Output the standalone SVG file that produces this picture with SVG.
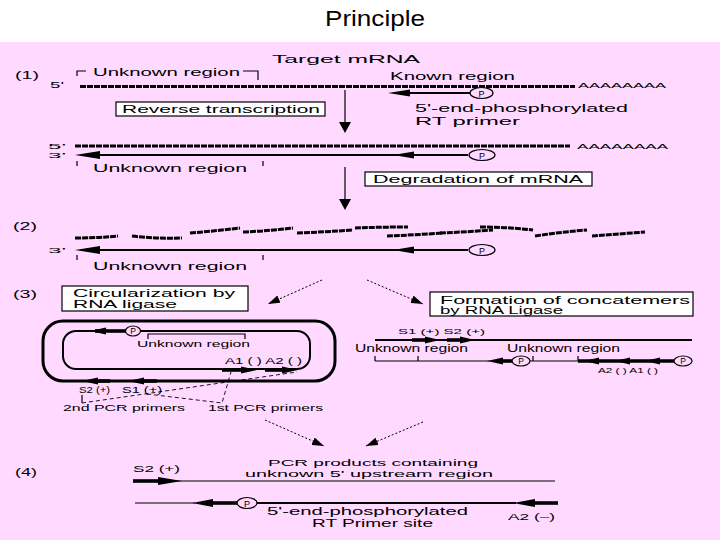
<svg xmlns="http://www.w3.org/2000/svg" width="720" height="540" viewBox="0 0 720 540">
<style>
.t{font-family:"Liberation Sans",Arial,Helvetica,sans-serif;fill:#000}
.hatch{fill:none;stroke:#000;stroke-width:3;stroke-dasharray:6 1}
.thin{fill:none;stroke:#000;stroke-width:1.2}
.mid{fill:none;stroke:#000;stroke-width:2.2}
.thick{fill:none;stroke:#000;stroke-width:3.6}
.dash{fill:none;stroke:#000;stroke-width:0.9;stroke-dasharray:4 3}
.dot{fill:none;stroke:#000;stroke-width:1;stroke-dasharray:2 2}
.box{fill:#fff;stroke:#000;stroke-width:1.2}
.pc{fill:#ffd9ff;stroke:#000;stroke-width:1.2}
.hd{fill:#000}
</style>
<defs>
<marker id="ah" viewBox="0 0 12 8" refX="12" refY="4" markerWidth="12" markerHeight="8" markerUnits="userSpaceOnUse" orient="auto"><path d="M0,0 L12,4 L0,8 z" fill="#000"/></marker>
</defs>
<rect x="0" y="0" width="720" height="42" fill="#fff"/>
<rect x="0" y="42" width="720" height="498" fill="#ffd9ff"/>
<text class="t" x="325" y="26" font-size="22" textLength="100" lengthAdjust="spacingAndGlyphs">Principle</text>

<g id="step1">
<text class="t" x="15" y="79" font-size="10" textLength="24" lengthAdjust="spacingAndGlyphs">(1)</text>
<text class="t" x="272" y="63" font-size="11.5" textLength="148" lengthAdjust="spacingAndGlyphs">Target mRNA</text>
<path class="thin" d="M77,76 V71 H86 M243,71 H258 V80"/>
<text class="t" x="93" y="76" font-size="10.5" textLength="147" lengthAdjust="spacingAndGlyphs">Unknown region</text>
<text class="t" x="390" y="80" font-size="10" textLength="125" lengthAdjust="spacingAndGlyphs">Known region</text>
<text class="t" x="50" y="88" font-size="9" textLength="14" lengthAdjust="spacingAndGlyphs">5'</text>
<line class="hatch" x1="80" y1="86.5" x2="575" y2="86.5"/>
<text class="t" x="578" y="88" font-size="8" textLength="88" lengthAdjust="spacingAndGlyphs">AAAAAAAA</text>
<g id="primer1">
<line class="mid" x1="405" y1="93" x2="470" y2="93"/>
<polygon class="hd" points="388,93 410,89.5 410,96.5"/>
<ellipse class="pc" cx="481.5" cy="93" rx="11.5" ry="5.5"/>
<text class="t" x="481.5" y="96.5" font-size="9" text-anchor="middle">P</text>
</g>
<text class="t" x="415" y="112" font-size="10.5" textLength="213" lengthAdjust="spacingAndGlyphs">5'-end-phosphorylated</text>
<text class="t" x="415" y="125" font-size="10.5" textLength="105" lengthAdjust="spacingAndGlyphs">RT primer</text>
</g>
<g id="box-rt">
<rect class="box" x="116" y="102" width="209" height="14"/>
<text class="t" x="122" y="113" font-size="10" textLength="198" lengthAdjust="spacingAndGlyphs">Reverse transcription</text>
</g>

<g id="hybrid">
<text class="t" x="48" y="149" font-size="8" textLength="18" lengthAdjust="spacingAndGlyphs">5'</text>
<text class="t" x="48" y="158" font-size="8" textLength="18" lengthAdjust="spacingAndGlyphs">3'</text>
<line class="hatch" x1="75" y1="146" x2="570" y2="146"/>
<text class="t" x="577" y="149" font-size="8" textLength="91" lengthAdjust="spacingAndGlyphs">AAAAAAAA</text>
<line class="mid" x1="90" y1="155" x2="468" y2="155"/>
<polygon class="hd" points="75,155 100,151 100,159"/>
<polygon class="hd" points="393,155 414,151.5 414,158.5"/>
<ellipse class="pc" cx="482" cy="155" rx="13" ry="5.5"/>
<text class="t" x="482" y="158.5" font-size="9" text-anchor="middle">P</text>
<path class="thin" d="M77,161 V166 M263,161 V166"/>
<text class="t" x="93" y="172" font-size="10.5" textLength="154" lengthAdjust="spacingAndGlyphs">Unknown region</text>
</g>
<g id="box-deg">
<rect class="box" x="365" y="172" width="227" height="14"/>
<text class="t" x="373" y="183" font-size="10" textLength="210" lengthAdjust="spacingAndGlyphs">Degradation of mRNA</text>
</g>

<g id="step2">
<text class="t" x="13" y="230" font-size="10" textLength="24" lengthAdjust="spacingAndGlyphs">(2)</text>
<g id="fragments">
<path class="hatch" d="M75,238 Q97,238 118,236"/>
<path class="hatch" d="M132,236 Q157,239 182,238"/>
<path class="hatch" d="M190,233 Q215,231 240,228"/>
<path class="hatch" d="M243,232 Q268,231 293,228"/>
<path class="hatch" d="M297,233 Q325,232 353,230"/>
<path class="hatch" d="M355,228 Q381,227 408,227"/>
<path class="hatch" d="M387,236 Q414,235 442,233"/>
<path class="hatch" d="M440,233 Q466,232 493,230"/>
<path class="hatch" d="M480,227 Q506,227 533,230"/>
<path class="hatch" d="M535,236 Q561,232 587,230"/>
<path class="hatch" d="M592,236 Q618,234 645,232"/>
</g>
<text class="t" x="48" y="253" font-size="8" textLength="18" lengthAdjust="spacingAndGlyphs">3'</text>
<line class="mid" x1="90" y1="250" x2="468" y2="250"/>
<polygon class="hd" points="75,250 100,246 100,254"/>
<polygon class="hd" points="393,250 414,246.5 414,253.5"/>
<ellipse class="pc" cx="482" cy="250" rx="13" ry="5.5"/>
<text class="t" x="482" y="253.5" font-size="9" text-anchor="middle">P</text>
<path class="thin" d="M77,255 V260 M263,255 V260"/>
<text class="t" x="93" y="270" font-size="10.5" textLength="154" lengthAdjust="spacingAndGlyphs">Unknown region</text>
</g>

<g id="step3-label">
<text class="t" x="13" y="298" font-size="10" textLength="24" lengthAdjust="spacingAndGlyphs">(3)</text>
</g>
<g id="box-circ">
<rect class="box" x="62" y="286" width="186" height="25"/>
<text class="t" x="73" y="297" font-size="10.5" textLength="162" lengthAdjust="spacingAndGlyphs">Circularization by</text>
<text class="t" x="73" y="308" font-size="10.5" textLength="104" lengthAdjust="spacingAndGlyphs">RNA ligase</text>
</g>
<g id="circle">
<rect x="43" y="321" width="292" height="60" rx="20" fill="none" stroke="#000" stroke-width="3"/>
<rect x="63" y="331" width="247" height="38" rx="13" fill="none" stroke="#000" stroke-width="2"/>
<line class="thick" x1="95" y1="331" x2="127" y2="331"/>
<polygon class="hd" points="90,331 106,327.5 106,334.5"/>
<ellipse class="pc" cx="133" cy="331" rx="7.5" ry="5"/>
<text class="t" x="133" y="334.3" font-size="8.5" text-anchor="middle">P</text>
<path class="thin" d="M148,339 V334 H245 V339"/>
<text class="t" x="137" y="347" font-size="9.5" textLength="113" lengthAdjust="spacingAndGlyphs">Unknown region</text>
<text class="t" x="225" y="364" font-size="9" textLength="77" lengthAdjust="spacingAndGlyphs">A1 ( )  A2 ( )</text>
<line class="thick" x1="222" y1="370" x2="244" y2="370"/>
<polygon class="hd" points="257,370 241,366.5 241,373.5"/>
<line class="thick" x1="265" y1="370" x2="285" y2="370"/>
<polygon class="hd" points="298,370 282,366.5 282,373.5"/>
<line class="thick" x1="95" y1="381" x2="110" y2="381"/>
<polygon class="hd" points="82,381 98,377.5 98,384.5"/>
<line class="thick" x1="141" y1="381" x2="157" y2="381"/>
<polygon class="hd" points="128,381 144,377.5 144,384.5"/>
<text class="t" x="79" y="393" font-size="9" textLength="31" lengthAdjust="spacingAndGlyphs">S2 (+)</text>
<text class="t" x="122" y="393" font-size="9" textLength="40" lengthAdjust="spacingAndGlyphs">S1 (+)</text>
<text class="t" x="63" y="411" font-size="9.5" textLength="122" lengthAdjust="spacingAndGlyphs">2nd PCR primers</text>
<text class="t" x="208" y="411" font-size="9.5" textLength="115" lengthAdjust="spacingAndGlyphs">1st PCR primers</text>
</g>
<g id="box-concat">
<rect class="box" x="430" y="292" width="263" height="24"/>
<text class="t" x="440" y="304" font-size="10" textLength="250" lengthAdjust="spacingAndGlyphs">Formation of concatemers</text>
<text class="t" x="440" y="314" font-size="10" textLength="123" lengthAdjust="spacingAndGlyphs">by RNA Ligase</text>
</g>
<g id="concatemer">
<text class="t" x="398" y="334" font-size="8" textLength="87" lengthAdjust="spacingAndGlyphs">S1 (+)  S2 (+)</text>
<line class="mid" x1="375" y1="340" x2="692" y2="340"/>
<line class="thick" x1="412" y1="340" x2="428" y2="340"/>
<polygon class="hd" points="440,340 425,336.5 425,343.5"/>
<line class="thick" x1="447" y1="340" x2="463" y2="340"/>
<polygon class="hd" points="475,340 460,336.5 460,343.5"/>
<text class="t" x="355" y="352" font-size="10" textLength="113" lengthAdjust="spacingAndGlyphs">Unknown region</text>
<text class="t" x="507" y="352" font-size="10" textLength="113" lengthAdjust="spacingAndGlyphs">Unknown region</text>
<line class="thin" x1="375" y1="361" x2="490" y2="361"/>
<path class="thin" d="M375,356 V361 M418,356 V361 M533,356 V361 M578,356 V361"/>
<line class="thick" x1="500" y1="361" x2="513" y2="361"/>
<polygon class="hd" points="487,361 503,357.5 503,364.5"/>
<ellipse class="pc" cx="521" cy="361" rx="9" ry="5"/>
<text class="t" x="521" y="364.3" font-size="8.5" text-anchor="middle">P</text>
<line class="thin" x1="530" y1="361" x2="578" y2="361"/>
<line class="thick" x1="578" y1="361" x2="674" y2="361"/>
<polygon class="hd" points="584,361 599,357.5 599,364.5"/>
<polygon class="hd" points="615,361 630,357.5 630,364.5"/>
<polygon class="hd" points="645,361 660,357.5 660,364.5"/>
<ellipse class="pc" cx="683" cy="361" rx="9" ry="5"/>
<text class="t" x="683" y="364.3" font-size="8.5" text-anchor="middle">P</text>
<text class="t" x="598" y="373" font-size="8" textLength="60" lengthAdjust="spacingAndGlyphs">A2 ( )  A1 ( )</text>
</g>

<g id="step4">
<text class="t" x="15" y="476" font-size="10" textLength="22" lengthAdjust="spacingAndGlyphs">(4)</text>
<text class="t" x="268" y="466" font-size="9.5" textLength="210" lengthAdjust="spacingAndGlyphs">PCR products containing</text>
<text class="t" x="245" y="477" font-size="9.5" textLength="248" lengthAdjust="spacingAndGlyphs">unknown 5' upstream region</text>
<text class="t" x="133" y="472" font-size="9.5" textLength="47" lengthAdjust="spacingAndGlyphs">S2 (+)</text>
<line class="thin" x1="133" y1="481" x2="555" y2="481"/>
<line class="thick" x1="133" y1="481" x2="162" y2="481"/>
<polygon class="hd" points="182,481 158,477 158,485"/>
<line class="thin" x1="135" y1="503" x2="195" y2="503"/>
<polygon class="hd" points="192,503 213,499 213,507"/>
<line class="thick" x1="210" y1="503" x2="238" y2="503"/>
<ellipse class="pc" cx="247" cy="503" rx="10" ry="5.5"/>
<text class="t" x="247" y="506.5" font-size="9" text-anchor="middle">P</text>
<line class="mid" x1="257" y1="503" x2="516" y2="503"/>
<polygon class="hd" points="513,503 535,499 535,507"/>
<line class="thick" x1="532" y1="503" x2="558" y2="503"/>
<text class="t" x="267" y="515" font-size="10.5" textLength="201" lengthAdjust="spacingAndGlyphs">5'-end-phosphorylated</text>
<text class="t" x="312" y="527" font-size="10.5" textLength="121" lengthAdjust="spacingAndGlyphs">RT Primer site</text>
<text class="t" x="508" y="520" font-size="9" textLength="47" lengthAdjust="spacingAndGlyphs">A2 (–)</text>
</g>

<g id="connectors">
<line class="thin" x1="345" y1="90" x2="345" y2="124"/>
<polygon class="hd" points="339,122 351,122 345,133"/>
<line class="thin" x1="345" y1="167" x2="345" y2="201"/>
<polygon class="hd" points="339,199 351,199 345,210"/>
<line class="dot" x1="322" y1="280" x2="268" y2="304" marker-end="url(#ah)"/>
<line class="dot" x1="367" y1="280" x2="423" y2="304" marker-end="url(#ah)"/>
<line class="dot" x1="265" y1="420" x2="324" y2="446" marker-end="url(#ah)"/>
<line class="dot" x1="423" y1="422" x2="366" y2="446" marker-end="url(#ah)"/>
<path class="thin" d="M82,395 V403"/>
<line class="dash" x1="82" y1="403" x2="297" y2="372"/>
<polyline class="dash" points="147,394 222,403 231,372"/>
</g>
</svg>
